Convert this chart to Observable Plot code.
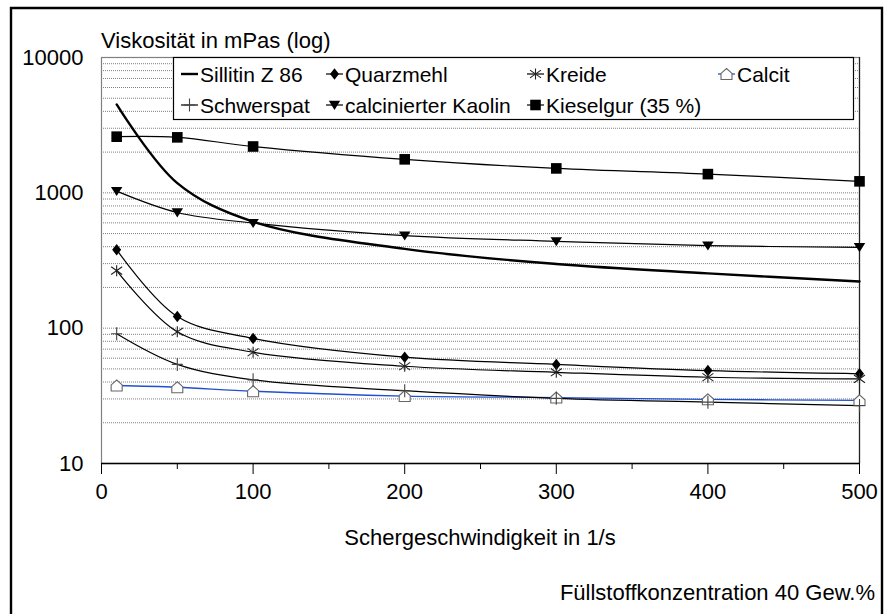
<!DOCTYPE html>
<html><head><meta charset="utf-8">
<script src="https://cdn.jsdelivr.net/npm/d3@7"></script>
<script src="https://cdn.jsdelivr.net/npm/@observablehq/plot@0.6"></script>
<style>body{margin:0;background:#fff}</style>
</head><body><div id="chart"></div>
<script>
// ---- data ----
const shear = [10, 50, 100, 200, 300, 400, 500];
const sillitin   = [4500, 1180, 612, 385, 298, 254, 221];
const quarzmehl  = [380, 122, 84, 61, 54, 48.6, 46];
const kreide     = [266, 94, 66.4, 52.3, 47.2, 43.4, 42.2];
const calcit     = [37.7, 36.6, 34.2, 31.5, 30.7, 29.8, 29.3];
const schwerspat = [91, 54, 41.5, 34.5, 30.3, 28.4, 26.8];
const kaolin     = [1030, 716, 598, 483, 438, 407, 396];
const kieselgur  = [2600, 2570, 2200, 1768, 1515, 1375, 1216];
const seriesNames = ["Sillitin Z 86", "Quarzmehl", "Kreide", "Calcit", "Schwerspat", "calcinierter Kaolin", "Kieselgur (35 %)"];
const seriesValues = [sillitin, quarzmehl, kreide, calcit, schwerspat, kaolin, kieselgur];
const yTicks = [10, 100, 1000, 10000];
const xTicksMajor = [0, 100, 200, 300, 400, 500];
const xTicksMinor = [50, 150, 250, 350, 450];
const gridValues = [20,30,40,50,60,70,80,90,100,200,300,400,500,600,700,800,900,1000,2000,3000,4000,5000,6000,7000,8000,9000];
const yTitle = "Viskosität in mPas (log)";
const xTitle = "Schergeschwindigkeit in 1/s";
const caption = "Füllstoffkonzentration 40 Gew.%";

const rows = seriesNames.flatMap((name, i) => shear.map((x, j) => ({name, x, y: seriesValues[i][j]})));

// ---- symbols ----
function sym(fn) { return {draw(c, size) { fn(c, Math.sqrt(size / Math.PI)); }}; }
const diamond = sym((c, r) => { c.moveTo(0, -r * 1.15); c.lineTo(r * 0.9, 0); c.lineTo(0, r * 1.15); c.lineTo(-r * 0.9, 0); c.closePath(); });
const square = sym((c, r) => { c.rect(-r, -r, 2 * r, 2 * r); });
const invTri = sym((c, r) => { c.moveTo(-r * 1.1, -r * 0.8); c.lineTo(r * 1.1, -r * 0.8); c.lineTo(0, r * 0.95); c.closePath(); });
const asterisk = sym((c, r) => { c.moveTo(-r, -r * 0.7); c.lineTo(r, r * 0.7); c.moveTo(-r, r * 0.7); c.lineTo(r, -r * 0.7); c.moveTo(0, -r); c.lineTo(0, r); });
const plus = sym((c, r) => { c.moveTo(0, -r); c.lineTo(0, r); c.moveTo(-r * 0.85, 0); c.lineTo(r * 0.85, 0); });
const house = sym((c, r) => { c.moveTo(0, -r); c.lineTo(r, -r * 0.1); c.lineTo(r, r); c.lineTo(-r, r); c.lineTo(-r, -r * 0.1); c.closePath(); });

const styles = {
  "Sillitin Z 86":       {line: "#000", lw: 2.4, symbol: null},
  "Quarzmehl":           {line: "#000", lw: 1.2, symbol: diamond, r: 5, fill: "#000", stroke: "none"},
  "Kreide":              {line: "#000", lw: 1.2, symbol: asterisk, r: 5.5, fill: "none", stroke: "#222"},
  "Calcit":              {line: "#1f50d2", lw: 1.3, symbol: house, r: 5.5, fill: "#fff", stroke: "#666"},
  "Schwerspat":          {line: "#000", lw: 1.2, symbol: plus, r: 6.5, fill: "none", stroke: "#444"},
  "calcinierter Kaolin": {line: "#000", lw: 1.2, symbol: invTri, r: 5.2, fill: "#000", stroke: "none"},
  "Kieselgur (35 %)":    {line: "#000", lw: 1.2, symbol: square, r: 5.3, fill: "#000", stroke: "none"}
};

const marks = [
  Plot.ruleY(gridValues, {stroke: "#808080", strokeWidth: 1, strokeDasharray: "1,1"}),
  Plot.frame({stroke: "#808080", strokeWidth: 1.2}),
  Plot.ruleX([500], {stroke: "#222", strokeWidth: 1.2}),
  Plot.ruleY([10], {stroke: "#000", strokeWidth: 1.4}),
  Plot.axisY(yTicks, {tickSize: 0, tickPadding: 18, tickFormat: d => String(d)}),
  Plot.axisX(xTicksMajor, {tickSize: 11, tickPadding: 9, tickFormat: d => String(d), stroke: "#000"}),
  Plot.axisX(xTicksMinor, {tickSize: 6, tickFormat: () => "", stroke: "#000"})
];
for (const name of seriesNames) {
  const s = styles[name];
  const data = rows.filter(d => d.name === name);
  marks.push(Plot.line(data, {x: "x", y: "y", curve: "catmull-rom", stroke: s.line, strokeWidth: s.lw}));
}
for (const name of seriesNames) {
  const s = styles[name];
  if (!s.symbol) continue;
  const data = rows.filter(d => d.name === name);
  marks.push(Plot.dot(data, {x: "x", y: "y", symbol: s.symbol, r: s.r, fill: s.fill, stroke: s.stroke, strokeWidth: 1.1}));
}

const chart = Plot.plot({
  width: 893, height: 614,
  marginLeft: 101, marginRight: 34, marginTop: 57, marginBottom: 151,
  style: {fontFamily: "'Liberation Sans', Arial, sans-serif", fontSize: "22px", color: "#000", background: "#fff"},
  x: {domain: [0, 500], label: null},
  y: {type: "log", domain: [10, 10000], label: null},
  marks
});
document.getElementById("chart").appendChild(chart);

// ---- decorations: border, titles, legend ----
const svg = d3.select(chart);
svg.append("path").attr("d", "M11,640V8H882V640").attr("fill", "none").attr("stroke", "#000").attr("stroke-width", 2.4);
svg.append("text").attr("x", 101).attr("y", 48).attr("text-anchor", "start").attr("font-size", 22).attr("fill", "#000").text(yTitle);
svg.append("text").attr("x", 480).attr("y", 545).attr("text-anchor", "middle").attr("font-size", 22).attr("fill", "#000").text(xTitle);
svg.append("text").attr("x", 875).attr("y", 600).attr("text-anchor", "end").attr("font-size", 22).attr("fill", "#000").text(caption);

const lg = svg.append("g").attr("font-size", 21).attr("text-anchor", "start");
lg.append("rect").attr("x", 173.5).attr("y", 57.5).attr("width", 680).attr("height", 62).attr("fill", "#fff").attr("stroke", "#000").attr("stroke-width", 1.2);
const colX = [200, 345, 546, 737];
const rowY = [74, 105];
const layout = [[0,0],[0,1],[0,2],[0,3],[1,0],[1,1],[1,2]];
seriesNames.forEach((name, i) => {
  const [row, col] = layout[i];
  const s = styles[name];
  const tx = colX[col], cy = rowY[row];
  lg.append("line").attr("x1", tx - 19).attr("x2", tx - 2).attr("y1", cy).attr("y2", cy)
    .attr("stroke", s.line).attr("stroke-width", s.lw);
  if (s.symbol) {
    lg.append("path").attr("transform", `translate(${tx - 10.5},${cy})`)
      .attr("d", d3.symbol(s.symbol, s.r * s.r * Math.PI)())
      .attr("fill", s.fill).attr("stroke", s.stroke).attr("stroke-width", 1.1);
  }
  lg.append("text").attr("x", tx).attr("y", cy + 8).attr("text-anchor", "start").attr("fill", "#000").text(name);
});
</script>
</body></html>
